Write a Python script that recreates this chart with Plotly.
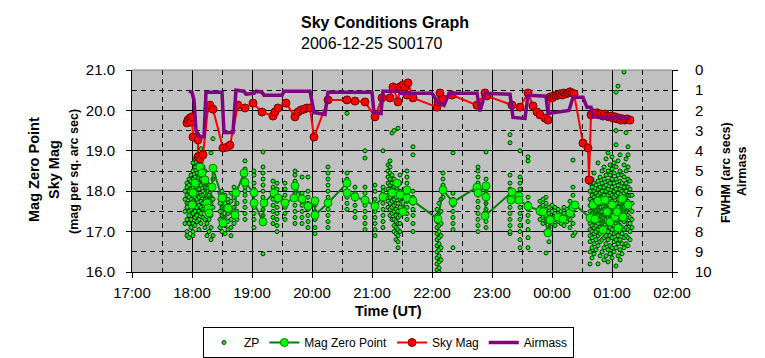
import plotly.graph_objects as go
from datetime import datetime

# ---------------- data ----------------
# Sky brightness (mag per sq. arc sec), left axis
sky_time = ["17:55", "17:56", "17:58", "17:59", "18:00", "18:01", "18:06", "18:06", "18:08", "18:11",
            "18:16", "18:18", "18:21", "18:31", "18:35", "18:38", "18:46", "18:53", "19:01", "19:10",
            "19:21", "19:23", "19:26", "19:34", "19:43", "19:46", "19:49", "19:52", "19:55", "19:58",
            "20:02", "20:16", "20:35", "20:43", "20:53", "21:03", "21:10", "21:18", "21:21", "21:26",
            "21:28", "21:31", "21:33", "21:35", "21:36", "21:41", "22:05", "22:06", "22:08", "22:11",
            "22:20", "22:45", "22:53", "22:55", "23:20", "23:28", "23:36", "23:41", "23:45", "23:48",
            "23:53", "23:56", "23:58", "00:00", "00:02", "00:04", "00:06", "00:08", "00:10", "00:12",
            "00:14", "00:16", "00:18", "00:20", "00:22", "00:31", "00:36", "00:37", "00:39", "00:41",
            "00:43", "00:45", "00:47", "00:49", "00:51", "00:53", "00:55", "00:57", "00:59", "01:01",
            "01:03", "01:05", "01:07", "01:09", "01:11", "01:13", "01:15", "01:18"]
sky_mag = [19.69, 19.76, 19.81, 19.71, 19.84, 19.34, 19.27, 18.85, 18.80, 18.90,
           20.06, 20.13, 20.03, 19.07, 19.09, 19.14, 20.13, 20.06, 20.18, 19.96,
           19.86, 19.96, 20.06, 20.18, 19.84, 19.96, 20.01, 20.03, 20.06, 20.06,
           19.34, 20.26, 20.26, 20.23, 20.21, 19.84, 20.31, 20.31, 20.58, 20.21,
           20.58, 20.63, 20.58, 20.38, 20.68, 20.31, 20.08, 20.21, 20.43, 20.28,
           20.38, 20.13, 20.43, 20.36, 20.13, 20.08, 20.43, 20.11, 19.96, 19.89,
           19.81, 19.76, 20.33, 20.31, 20.36, 20.36, 20.38, 20.41, 20.38, 20.43,
           20.41, 20.43, 20.46, 20.43, 20.41, 19.19, 19.07, 18.28, 19.89, 19.94,
           19.91, 19.94, 19.89, 19.91, 19.86, 19.91, 19.86, 19.84, 19.86, 19.81,
           19.84, 19.79, 19.81, 19.76, 19.79, 19.76, 19.79, 19.76]

# Mean magnitude zero point per image set, left axis
mzp_time = ["18:00", "18:01", "18:03", "18:08", "18:10", "18:13", "18:15", "18:16", "18:17", "18:20",
            "18:21", "18:30", "18:31", "18:36", "18:43", "18:44", "18:52", "18:53", "19:02", "19:02",
            "19:11", "19:12", "19:22", "19:26", "19:33", "19:42", "19:43", "19:50", "19:56", "20:03",
            "20:03", "20:16", "20:35", "20:35", "20:43", "20:53", "21:03", "21:11", "21:20", "21:25",
            "21:28", "21:31", "21:35", "21:35", "21:41", "22:06", "22:11", "22:21", "22:45", "22:46",
            "22:54", "22:54", "22:53", "23:20", "23:19", "23:27", "23:27", "23:36", "23:48", "23:51",
            "23:56", "23:58", "00:06", "00:11", "00:18", "00:21", "00:23", "00:38", "00:41", "00:43",
            "00:46", "00:51", "00:53", "00:55", "00:58", "01:00", "01:03", "01:05", "01:06", "01:10",
            "01:11", "01:16"]
mzp_mag = [17.66, 17.96, 18.20, 18.60, 18.45, 18.28, 17.71, 17.58, 17.46, 18.10,
           18.57, 17.83, 17.21, 17.58, 17.41, 17.96, 18.45, 18.22, 17.96, 17.71,
           17.24, 17.71, 17.96, 17.83, 17.71, 17.83, 18.13, 17.81, 17.63, 17.76,
           17.41, 17.71, 18.20, 17.96, 17.86, 17.78, 17.63, 17.86, 17.96, 18.20,
           17.91, 17.49, 18.03, 17.83, 17.76, 17.31, 18.03, 17.73, 18.10, 17.96,
           18.13, 17.86, 17.39, 17.98, 17.78, 17.88, 17.78, 17.63, 17.51, 17.49,
           16.97, 17.29, 17.36, 17.31, 17.46, 17.61, 17.66, 17.34, 17.66, 17.31,
           17.76, 17.04, 17.78, 17.49, 17.24, 17.66, 17.36, 17.49, 17.09, 17.81,
           17.36, 17.66]

# Airmass, right axis
air_time = ["17:57", "18:00", "18:02", "18:04", "18:08", "18:12", "18:14", "18:30", "18:32", "18:41",
            "18:44", "18:52", "18:54", "19:02", "19:04", "19:10", "19:12", "19:30", "19:32", "19:58",
            "20:02", "20:13", "20:16", "21:00", "21:02", "21:09", "21:11", "21:27", "21:29", "22:00",
            "22:06", "22:12", "22:17", "22:45", "22:48", "22:53", "23:18", "23:21", "23:33", "23:36",
            "23:54", "23:56", "00:17", "00:21", "00:31", "00:35", "00:39", "00:41", "01:18"]
airmass = [1.05, 1.10, 1.5, 3.0, 3.3, 3.3, 1.1, 1.1, 3.1, 3.1,
           1.0, 1.05, 1.2, 1.15, 1.05, 1.1, 1.25, 1.25, 1.05, 1.05,
           2.1, 2.2, 1.1, 1.1, 2.1, 2.15, 1.05, 1.05, 1.15, 1.15,
           1.6, 1.75, 1.15, 1.15, 2.05, 1.15, 1.2, 2.35, 2.4, 1.25,
           1.3, 2.15, 2.0, 1.35, 1.35, 1.85, 1.85, 2.3, 2.4]

# Individual-star zero points: one time per column of dots, and the dots' values
zp_col_time = ["17:53", "17:55", "17:57", "17:59", "18:01", "18:03", "18:05", "18:07", "18:09", "18:11",
               "18:13", "18:15", "18:17", "18:19", "18:21", "18:28", "18:30", "18:33", "18:36", "18:39",
               "18:42", "18:45", "18:53", "19:02", "19:11", "19:21", "19:25", "19:33", "19:43", "19:50",
               "19:56", "20:03", "20:16", "20:35", "20:43", "20:53", "21:03", "21:11", "21:16", "21:18",
               "21:20", "21:22", "21:24", "21:26", "21:28", "21:35", "21:41", "22:05", "22:07", "22:09",
               "22:11", "22:21", "22:46", "22:54", "23:18", "23:28", "23:36", "23:48", "23:51", "23:54",
               "23:57", "00:00", "00:03", "00:06", "00:09", "00:12", "00:15", "00:18", "00:21", "00:23",
               "00:38", "00:40", "00:42", "00:44", "00:46", "00:48", "00:50", "00:52", "00:54", "00:56",
               "00:58", "01:00", "01:02", "01:04", "01:06", "01:08", "01:10", "01:12", "01:14", "01:16",
               "01:18", "01:20"]
zp_col_mags = [
    [17.2, 17.5, 17.8, 18.0],
    [16.9, 17.0, 17.3, 17.6, 17.7, 17.9, 18.1, 18.2],
    [16.85, 17.2, 17.4, 17.5, 17.7, 17.85, 18.0, 18.15, 18.3],
    [17.1, 17.3, 17.55, 17.65, 17.8, 17.95, 18.05, 18.25, 18.4],
    [16.9, 17.0, 17.2, 17.45, 17.6, 17.75, 17.9, 18.1, 18.3, 18.5, 18.7],
    [17.15, 17.35, 17.5, 17.7, 17.85, 18.0, 18.2, 18.35, 18.6, 18.8],
    [17.25, 17.4, 17.6, 17.8, 17.95, 18.1, 18.25, 18.45, 18.65, 18.9],
    [17.05, 17.3, 17.5, 17.65, 17.85, 18.05, 18.2, 18.4, 18.55, 18.75, 19.0],
    [17.2, 17.45, 17.6, 17.75, 17.9, 18.15, 18.3, 18.5, 18.7, 19.05],
    [17.35, 17.55, 17.7, 17.9, 18.0, 18.2, 18.4, 18.6],
    [17.1, 17.3, 17.55, 17.8, 17.95, 18.1, 18.3, 18.5],
    [16.9, 17.2, 17.45, 17.6, 17.8, 18.0, 18.2],
    [17.0, 17.3, 17.5, 17.75, 17.9, 18.15],
    [16.8, 17.1, 17.4, 17.7, 17.85, 18.95],
    [16.9, 17.6, 17.8, 18.3, 19.3],
    [17.1, 17.3, 17.5, 17.7, 17.8, 17.95],
    [17.0, 17.2, 17.4, 17.6, 17.85, 18.0],
    [16.95, 17.15, 17.35, 17.55, 17.7, 17.9],
    [17.05, 17.25, 17.45, 17.65, 17.8],
    [16.9, 17.1, 17.3, 17.5, 17.75, 17.95],
    [17.2, 17.4, 17.6, 17.85, 18.1],
    [17.3, 17.5, 17.7],
    [17.3, 17.45, 17.6, 17.75, 17.9, 18.0, 18.1, 18.25, 18.4, 18.55, 18.75],
    [17.1, 17.3, 17.45, 17.6, 17.75, 17.9, 18.05, 18.2, 18.4, 18.5],
    [16.45, 17.2, 17.4, 17.55, 17.7, 17.85, 18.0, 18.15, 18.3, 18.45, 18.6, 18.97],
    [17.2, 17.35, 17.5, 17.65, 17.8, 17.95, 18.1, 18.25],
    [17.0, 17.15, 17.3, 17.45, 17.6, 17.75, 17.9, 18.05, 18.2],
    [17.3, 17.45, 17.6, 17.75, 17.9, 18.05, 18.2],
    [17.2, 17.35, 17.5, 17.65, 17.8, 17.95, 18.1, 18.25, 18.4, 18.5],
    [17.2, 17.35, 17.5, 17.65, 17.8, 17.95, 18.35],
    [17.1, 17.25, 17.4, 17.55, 17.7, 17.85, 18.0, 18.35],
    [16.95, 17.1, 17.3, 17.5, 17.65],
    [17.1, 17.25, 17.4, 17.55, 17.7, 17.85, 18.0, 18.15, 18.3, 18.45, 18.6],
    [17.55, 17.7, 17.85, 18.0, 18.15, 18.3, 18.45, 19.93],
    [17.35, 17.5, 17.65, 17.8, 17.95, 18.1],
    [17.05, 17.2, 17.35, 17.5, 17.65, 17.8, 17.95, 18.1, 18.82, 19.0],
    [16.9, 17.05, 17.2, 17.35, 17.5, 17.65, 17.8, 18.0, 18.15],
    [17.1, 17.25, 17.4, 17.55, 17.7, 17.85, 18.0, 18.1, 19.0],
    [17.6, 17.75, 17.9, 18.05, 18.2, 18.35, 18.5, 18.65],
    [17.4, 17.55, 17.7, 17.85, 18.0, 18.15, 18.3, 18.45, 18.6, 18.75],
    [17.3, 17.45, 17.6, 17.75, 17.9, 18.05, 18.2, 18.4, 19.44],
    [17.0, 17.15, 17.3, 17.5, 17.65, 17.8, 17.95, 18.1, 18.3, 19.5],
    [16.8, 16.95, 17.1, 17.25, 17.4, 17.55, 17.7, 17.85, 18.0, 18.15],
    [16.6, 16.75, 16.9, 17.05, 17.2, 17.35, 17.5, 17.7, 17.9, 19.56],
    [17.0, 17.2, 17.4, 17.6, 17.8, 18.0, 18.2, 18.4],
    [17.3, 17.45, 17.6, 17.75, 17.9, 18.05, 18.2, 18.35, 18.5],
    [17.0, 17.2, 17.4, 17.55, 17.7, 17.85, 18.0, 18.9, 19.1],
    [16.05, 16.2, 16.35, 16.5, 16.65, 16.8, 16.95, 17.1, 17.25, 17.4, 17.55],
    [16.0, 16.1, 16.25, 16.4, 16.55, 16.7, 16.85, 17.0, 17.15, 17.3, 17.45, 17.7],
    [16.3, 16.6, 16.9, 17.2, 17.5, 17.8],
    [17.85, 18.0, 18.15, 18.3, 18.45],
    [16.6, 17.05, 17.2, 17.35, 17.5, 17.65, 17.8, 17.95, 18.95],
    [17.0, 17.15, 17.3, 17.45, 17.6, 17.75, 17.9, 18.05, 18.2, 18.35, 18.5, 18.6],
    [17.1, 17.25, 17.4, 17.55, 17.7, 17.85, 18.0, 18.15, 18.3, 18.97],
    [16.95, 17.0, 17.15, 17.3, 17.45, 17.6, 17.75, 17.9, 18.05, 18.2, 18.4, 19.2, 19.4],
    [16.6, 16.8, 17.0, 17.15, 17.3, 17.45, 17.6, 17.75, 17.9, 18.05, 18.2, 18.35, 19.0],
    [16.6, 16.85, 17.05, 17.25, 17.4, 17.55, 17.7, 17.85, 18.75, 18.85],
    [17.3, 17.45, 17.6, 17.75],
    [17.2, 17.35, 17.5, 17.65, 17.8],
    [16.47, 17.0, 17.25, 17.4, 17.55, 17.7, 17.85],
    [16.75, 17.1, 17.3, 17.45, 17.6],
    [17.2, 17.35, 17.5, 17.65],
    [17.15, 17.3, 17.45, 17.6],
    [17.25, 17.4, 17.55],
    [17.2, 17.35, 17.5],
    [17.15, 17.3, 17.45, 17.6],
    [17.25, 17.4, 17.55],
    [17.1, 17.3, 17.45, 17.6, 17.75],
    [16.9, 17.2, 17.4, 17.65, 17.9, 18.1, 18.77],
    [16.97],
    [16.2, 16.5, 16.75, 16.9, 17.05, 17.2, 17.35, 17.5, 17.65, 17.8, 18.0, 18.2],
    [16.35, 16.6, 16.85, 17.0, 17.15, 17.3, 17.45, 17.6, 17.75, 17.9, 18.1, 18.3],
    [16.45, 16.7, 16.95, 17.1, 17.25, 17.4, 17.55, 17.7, 17.85, 18.0, 18.2, 18.45],
    [16.55, 16.8, 17.0, 17.15, 17.3, 17.5, 17.65, 17.8, 17.95, 18.15],
    [16.2, 16.65, 16.9, 17.05, 17.2, 17.4, 17.6, 17.75, 17.9, 18.05, 18.25, 18.7],
    [16.4, 16.75, 16.95, 17.1, 17.3, 17.45, 17.6, 17.8, 17.95, 18.1, 18.35],
    [16.5, 16.8, 17.0, 17.2, 17.35, 17.5, 17.7, 17.85, 18.0, 18.2, 18.5],
    [16.3, 16.6, 16.85, 17.05, 17.25, 17.4, 17.55, 17.75, 17.9, 18.1, 18.3, 18.6],
    [16.4, 16.7, 16.9, 17.1, 17.3, 17.45, 17.65, 17.8, 18.0, 18.15, 18.4, 18.8],
    [16.25, 16.55, 16.8, 17.0, 17.2, 17.35, 17.55, 17.7, 17.9, 18.05, 18.25, 18.5, 18.95],
    [16.45, 16.65, 16.9, 17.1, 17.25, 17.45, 17.6, 17.8, 17.95, 18.2, 18.4, 18.65],
    [16.35, 16.6, 16.85, 17.05, 17.2, 17.4, 17.55, 17.75, 17.9, 18.1, 18.3, 18.55, 18.85],
    [16.5, 16.75, 16.95, 17.15, 17.3, 17.5, 17.65, 17.85, 18.0, 18.2, 18.45, 18.7],
    [16.15, 16.6, 16.8, 17.0, 17.2, 17.35, 17.55, 17.7, 17.9, 18.05, 18.3, 18.6, 19.15, 19.5, 20.45],
    [16.4, 16.7, 16.9, 17.1, 17.25, 17.45, 17.6, 17.8, 17.95, 18.15, 18.4, 18.75, 20.6],
    [16.3, 16.55, 16.8, 17.0, 17.15, 17.35, 17.5, 17.7, 17.85, 18.05, 18.25, 18.5, 18.9],
    [16.45, 16.7, 16.95, 17.1, 17.3, 17.45, 17.65, 17.8, 18.0, 18.2, 18.4],
    [16.6, 16.85, 17.05, 17.25, 17.4, 17.6, 17.75, 17.95, 18.1, 18.35, 18.65, 20.95],
    [16.7, 16.9, 17.1, 17.3, 17.5, 17.65, 17.85, 18.0, 18.2, 18.5, 18.8, 19.45],
    [16.65, 16.85, 17.05, 17.2, 17.4, 17.55, 17.75, 17.9, 18.1, 18.3, 18.6, 18.9, 19.1],
    [16.8, 17.0, 17.2, 17.35, 17.55, 17.7, 17.9, 18.05, 18.25],
    [17.1, 17.3, 17.5, 17.7, 17.9],
]

x_ticks = ["17:00", "18:00", "19:00", "20:00", "21:00", "22:00", "23:00", "00:00", "01:00", "02:00"]


def to_dt(hhmm):
    h, m = (int(p) for p in hhmm.split(":"))
    return datetime(2006, 12, 26 if h < 12 else 25, h, m)


zp_x, zp_y = [], []
for t, mags in zip(zp_col_time, zp_col_mags):
    for v in mags:
        zp_x.append(to_dt(t))
        zp_y.append(v)

FONT = "Liberation Sans, Arial, sans-serif"
OFF = 8                      # page offset of the plot div (default body margin)
W, H = 765 - OFF, 358 - OFF
L, T = 132 - OFF, 70 - OFF
R = W - (672 - OFF)
B = H - (272 - OFF)
PW, PH = W - L - R, H - T - B


def px_x(p):   # page x pixel -> paper fraction
    return (p - OFF - L) / PW


def px_y(p):   # page y pixel -> paper fraction
    return (H - B - (p - OFF)) / PH


fig = go.Figure()
fig.add_trace(go.Scatter(
    x=zp_x, y=zp_y, mode="markers", name="ZP",
    marker=dict(size=4, color="#00FF00", line=dict(width=1, color="#003300")),
))
fig.add_trace(go.Scatter(
    x=[to_dt(t) for t in mzp_time], y=mzp_mag, mode="lines+markers", name="Mag Zero Point",
    line=dict(color="#008000", width=2),
    marker=dict(size=8, color="#00FF00", line=dict(width=1, color="#008000")),
))
fig.add_trace(go.Scatter(
    x=[to_dt(t) for t in sky_time], y=sky_mag, mode="lines+markers", name="Sky Mag",
    line=dict(color="#FF0000", width=2),
    marker=dict(size=8, color="#FF0000", line=dict(width=1, color="#700000")),
))
fig.add_trace(go.Scatter(
    x=[to_dt(t) for t in air_time], y=airmass, mode="lines", name="Airmass", yaxis="y2",
    line=dict(color="#800080", width=3.5),
))

tickfont = dict(family=FONT, size=15, color="black")
fig.update_layout(
    width=W, height=H,
    margin=dict(l=L, r=R, t=T, b=B, pad=0, autoexpand=False),
    paper_bgcolor="white", plot_bgcolor="#C0C0C0",
    font=dict(family=FONT, color="black"),
    showlegend=True,
    xaxis=dict(
        type="date",
        range=[to_dt("17:00"), to_dt("02:00")],
        tickvals=[to_dt(t) for t in x_ticks], ticktext=x_ticks,
        showgrid=True, gridcolor="black", gridwidth=1,
        minor=dict(dtick=1800000, showgrid=True, gridcolor="black", griddash="5px,4px", ticks=""),
        ticks="outside", ticklen=5, tickcolor="black", tickwidth=1,
        showline=True, linecolor="black", linewidth=1,
        tickfont=tickfont, zeroline=False, ticklabelstandoff=2,
    ),
    yaxis=dict(
        range=[16, 21], tick0=16, dtick=1, tickformat=".1f",
        showgrid=True, gridcolor="black", gridwidth=1,
        minor=dict(dtick=0.5, showgrid=True, gridcolor="black", griddash="5px,4px", ticks=""),
        ticks="outside", ticklen=5, tickcolor="black", tickwidth=1,
        showline=True, linecolor="black", linewidth=1,
        tickfont=tickfont, zeroline=False, ticklabelstandoff=8,
    ),
    yaxis2=dict(
        overlaying="y", side="right", range=[10, 0], tick0=0, dtick=1,
        showgrid=False, zeroline=False,
        ticks="outside", ticklen=5, tickcolor="black", tickwidth=1,
        showline=True, linecolor="black", linewidth=1,
        tickfont=tickfont, ticklabelstandoff=14,
    ),
    legend=dict(
        orientation="h", xref="container", yref="container",
        x=(388.5 - OFF) / W, xanchor="center", y=1 - (327 - OFF) / H, yanchor="top",
        bordercolor="black", borderwidth=1, bgcolor="white",
        font=dict(family=FONT, size=12, color="black"),
        itemwidth=30, tracegroupgap=0,
    ),
    shapes=[dict(type="line", xref="paper", yref="paper", x0=0, x1=1, y0=1, y1=1,
                 line=dict(color="#808080", width=1), layer="above")],
)

ann = []
ann.append(dict(text="<b>Sky Conditions Graph</b><br>2006-12-25 S00170", xref="paper", yref="paper",
                x=px_x(299), y=px_y(33), xanchor="left", yanchor="middle", align="left",
                showarrow=False, font=dict(family=FONT, size=16, color="black")))
ann.append(dict(text="<b>Time (UT)</b>", xref="paper", yref="paper", x=px_x(388), y=px_y(311),
                xanchor="center", yanchor="middle", showarrow=False,
                font=dict(family=FONT, size=14.5, color="black")))
for txt, xc, yc, sz in [("<b>Mag Zero Point</b>", 34, 170, 14.5), ("<b>Sky Mag</b>", 54, 170, 14.5),
                         ("<b>(mag per sq. arc sec)</b>", 74, 172, 12.5),
                         ("<b>FWHM (arc secs)</b>", 726, 173, 12.5), ("<b>Airmass</b>", 742, 172, 12.5)]:
    ann.append(dict(text=txt, xref="paper", yref="paper", x=px_x(xc), y=px_y(yc), textangle=-90,
                    xanchor="center", yanchor="middle", showarrow=False,
                    font=dict(family=FONT, size=sz, color="black")))
fig.update_layout(annotations=ann)

fig.write_html("out.html")
